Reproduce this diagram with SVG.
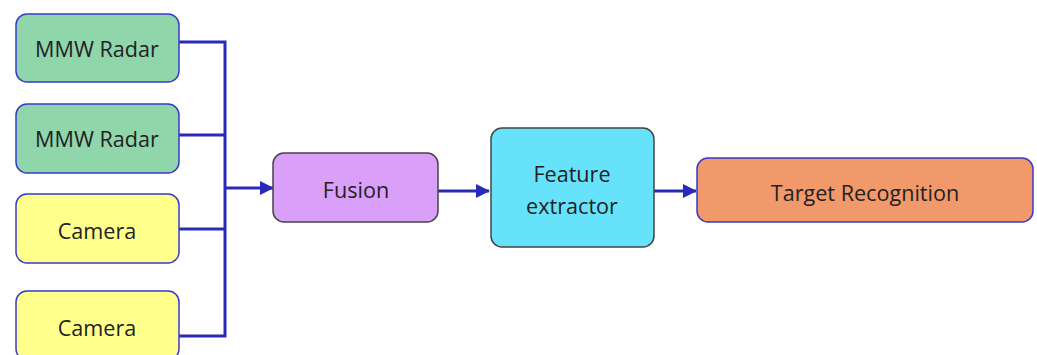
<svg xmlns="http://www.w3.org/2000/svg" width="1037" height="355" viewBox="0 0 1037 355">
<style>
.box{stroke-width:1.5}
.blue{stroke:#3a3ac8}
.gray{stroke:#444}
.t{font-family:"Open Sans","Liberation Sans",sans-serif;font-size:21.6px;fill:#222;text-anchor:middle;dominant-baseline:central}
.c{fill:none;stroke:#2a2ab8;stroke-width:3}
</style>
<defs>
<marker id="ahb" markerWidth="14" markerHeight="14" refX="13" refY="7" orient="auto" markerUnits="userSpaceOnUse" viewBox="0 0 14 14">
<path d="M0,0 L14,7 L0,14 z" fill="#2a2ab8"/>
</marker>
</defs>
<rect width="1037" height="355" fill="#fff"/>
<g id="connectors">
<path class="c" d="M179,42 H225 V336 H179 M179,135 H225 M179,229 H225"/>
<path class="c" d="M225,188 H273" marker-end="url(#ahb)"/>
<path class="c" d="M438,191 H489" marker-end="url(#ahb)"/>
<path class="c" d="M654,191 H696" marker-end="url(#ahb)"/>
</g>
<g id="radar1"><rect class="box blue" x="16" y="14" width="163" height="68" rx="11" fill="#8fd6aa"/><text class="t" x="97" y="48">MMW Radar</text></g>
<g id="radar2"><rect class="box blue" x="16" y="104" width="163" height="69" rx="11" fill="#8fd6aa"/><text class="t" x="97" y="138">MMW Radar</text></g>
<g id="camera1"><rect class="box blue" x="16" y="194" width="163" height="69" rx="11" fill="#ffff8c"/><text class="t" x="97" y="230">Camera</text></g>
<g id="camera2"><rect class="box blue" x="16" y="291" width="163" height="69" rx="11" fill="#ffff8c"/><text class="t" x="97" y="327">Camera</text></g>
<g id="fusion"><rect class="box gray" x="273" y="153" width="165" height="69" rx="11" fill="#daa0f9"/><text class="t" x="356" y="189">Fusion</text></g>
<g id="feature"><rect class="box gray" x="491" y="128" width="163" height="119" rx="11" fill="#66e3fb"/><text class="t" x="572" y="173">Feature</text><text class="t" x="572" y="205">extractor</text></g>
<g id="target"><rect class="box blue" x="697" y="158" width="336" height="64" rx="11" fill="#f2996b"/><text class="t" x="865" y="192">Target Recognition</text></g>
</svg>
